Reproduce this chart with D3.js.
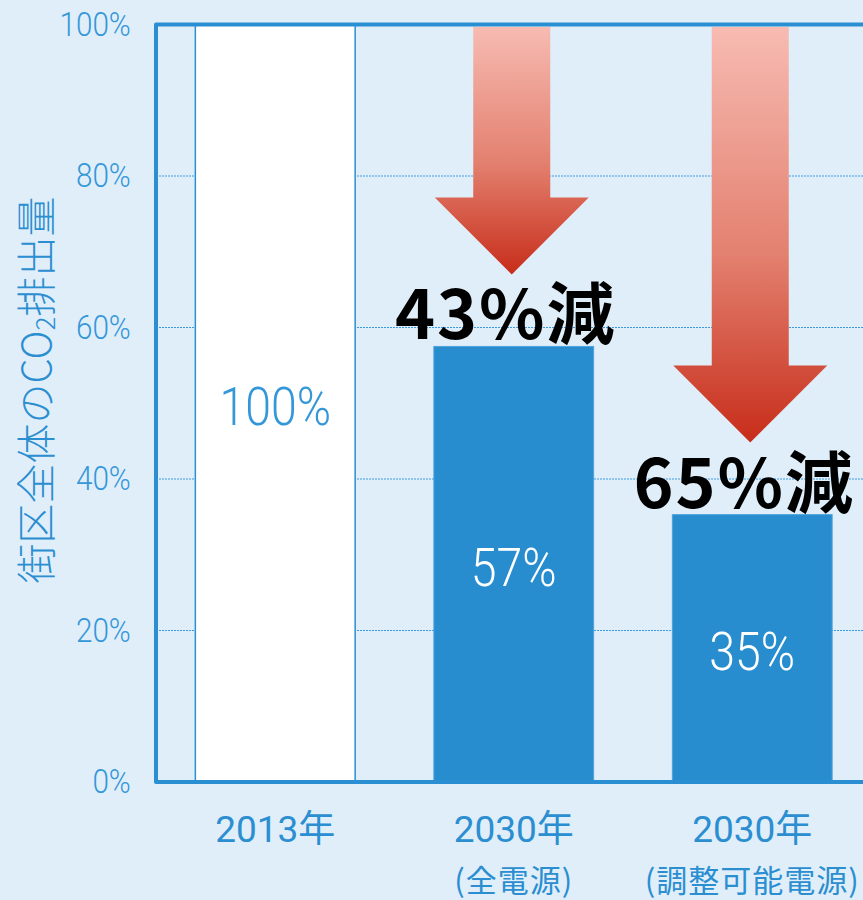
<!DOCTYPE html>
<html>
<head>
<meta charset="utf-8">
<script src="https://cdn.jsdelivr.net/npm/d3@7"></script>
<style>
	html, body { margin: 0; padding: 0; background: #e0eef9; }
	svg { display: block; }
</style>
</head>
<body>
<div id="viz"></div>
<script>
"use strict";

// data
var categories = ["2013年", "2030年 (全電源)", "2030年 (調整可能電源)"];
var yearLabels = ["2013年", "2030年", "2030年"];
var subLabels = ["", "(全電源)", "(調整可能電源)"];
var values = [100, 57.5, 35.3];
var valueLabels = ["100%", "57%", "35%"];
var reductionLabels = ["", "43%減", "65%減"];
var yTicks = [0, 20, 40, 60, 80, 100];

var width = 863,
	height = 900,
	blue = "#288dcf",
	textBlue = "#3497d8",
	numFont = "Roboto, 'Noto Sans CJK JP', sans-serif",
	cjkFont = "'Noto Sans CJK JP', sans-serif";

var svg = d3.select("#viz")
	.append("svg")
	.attr("width", width)
	.attr("height", height)

svg.append("rect")
	.attr("width", width)
	.attr("height", height)
	.attr("fill", "#e0eef9")

var y = d3.scaleLinear()
	.domain([0, 100])
	.range([782, 24.5])

var x = d3.scaleBand()
	.domain(categories)
	.range([156, 871.5])
	.paddingInner(0.33)
	.paddingOuter(0.165)

var barCenter = function(i) {
	return x(categories[i]) + x.bandwidth() / 2
}

// bars that carry a reduction arrow + label
var reductions = values
	.map(function(v, i){ return {value: v, index: i, label: reductionLabels[i]} })
	.filter(function(d){ return d.label })

var defs = svg.append("defs")
var grad = defs.append("linearGradient")
	.attr("id", "arrow-grad")
	.attr("x1", 0).attr("y1", 0)
	.attr("x2", 0).attr("y2", 1)
grad.append("stop").attr("offset", "0%").attr("stop-color", "#f7bbb2")
grad.append("stop").attr("offset", "55%").attr("stop-color", "#e3806f")
grad.append("stop").attr("offset", "100%").attr("stop-color", "#c72d1a")

// grid lines
svg.append("g")
	.selectAll("line")
	.data(yTicks.filter(function(d){ return d > 0 && d < 100 }))
	.enter()
	.append("line")
	.attr("x1", x.range()[0])
	.attr("x2", x.range()[1])
	.attr("y1", function(d){ return y(d) })
	.attr("y2", function(d){ return y(d) })
	.attr("stroke", "#3c9be0")
	.attr("stroke-width", 1)
	.attr("stroke-dasharray", "2,1")

// bars
svg.append("g")
	.selectAll("rect")
	.data(values)
	.enter()
	.append("rect")
	.attr("x", function(d, i){ return x(categories[i]) })
	.attr("width", x.bandwidth())
	.attr("y", function(d){ return y(d) })
	.attr("height", function(d){ return y(0) - y(d) })
	.attr("fill", function(d, i){ return i == 0 ? "#ffffff" : blue })
	.attr("stroke", function(d, i){ return i == 0 ? "#2a8fd2" : "#4fa3dc" })
	.attr("stroke-width", function(d, i){ return i == 0 ? 1.5 : 1 })

// arrows
var arrowPath = function(cx, top, tip) {
	var shaftHalf = 38.5,
		headHalf = 77,
		headH = 77,
		headTop = tip - headH
	return "M" + (cx - shaftHalf) + "," + top +
		"L" + (cx + shaftHalf) + "," + top +
		"L" + (cx + shaftHalf) + "," + headTop +
		"L" + (cx + headHalf) + "," + headTop +
		"L" + cx + "," + tip +
		"L" + (cx - headHalf) + "," + headTop +
		"L" + (cx - shaftHalf) + "," + headTop + "Z"
}

svg.append("g")
	.selectAll("path")
	.data(reductions)
	.enter()
	.append("path")
	.attr("d", function(d){
		return arrowPath(barCenter(d.index) - 2, y(100) + 2.5, y(d.value) - 72)
	})
	.attr("fill", "url(#arrow-grad)")

// frame
svg.append("rect")
	.attr("x", x.range()[0])
	.attr("y", y(100))
	.attr("width", x.range()[1] - x.range()[0])
	.attr("height", y(0) - y(100))
	.attr("fill", "none")
	.attr("stroke", "#2a8fd2")
	.attr("stroke-width", 4)
	.attr("stroke-linejoin", "round")

// value labels inside bars
svg.append("g")
	.selectAll("text")
	.data(values)
	.enter()
	.append("text")
	.attr("transform", function(d, i){
		var cy = (y(d) + y(0)) / 2 + 3
		return "translate(" + barCenter(i) + "," + cy + ") scale(0.86,1)"
	})
	.attr("text-anchor", "middle")
	.attr("dominant-baseline", "central")
	.attr("font-family", numFont)
	.attr("font-weight", 300)
	.attr("font-size", "54px")
	.attr("fill", function(d, i){ return i == 0 ? textBlue : "#ffffff" })
	.text(function(d, i){ return valueLabels[i] })

// reduction labels
svg.append("g")
	.selectAll("text")
	.data(reductions)
	.enter()
	.append("text")
	.attr("x", function(d){ return barCenter(d.index) - 8 })
	.attr("y", function(d){ return y(d.value) - 7 })
	.attr("text-anchor", "middle")
	.attr("font-family", cjkFont)
	.attr("font-weight", 700)
	.attr("font-size", "68px")
	.attr("letter-spacing", "2px")
	.attr("fill", "#000000")
	.text(function(d){ return d.label })

// y axis
var yAxis = svg.append("g")
	.attr("transform", "translate(" + x.range()[0] + ",0)")
	.call(d3.axisLeft(y)
		.tickValues(yTicks)
		.tickSize(0)
		.tickPadding(28)
		.tickFormat(function(d){ return d + "%" }))

yAxis.select(".domain").remove()
yAxis.selectAll("text")
	.attr("font-family", numFont)
	.attr("font-weight", 300)
	.attr("font-size", "33px")
	.attr("fill", textBlue)
	.attr("transform", "scale(0.9,1)")

// x axis
var xAxis = svg.append("g")
	.attr("transform", "translate(0," + y(0) + ")")
	.call(d3.axisBottom(x)
		.tickSize(0)
		.tickPadding(0)
		.tickFormat(function(d, i){ return yearLabels[i] }))

xAxis.select(".domain").remove()
xAxis.selectAll("text")
	.attr("y", 60)
	.attr("dy", 0)
	.attr("font-family", numFont)
	.attr("font-weight", 400)
	.attr("font-size", "37px")
	.attr("fill", "#2b8ed1")

xAxis.selectAll(".tick")
	.append("text")
	.attr("y", 110)
	.attr("text-anchor", "middle")
	.attr("font-family", cjkFont)
	.attr("font-weight", 400)
	.attr("font-size", "31px")
	.attr("letter-spacing", "1px")
	.attr("fill", "#2b8ed1")
	.text(function(d, i){ return subLabels[i] })

// y axis title
var yTitle = svg.append("text")
	.attr("transform", "translate(51,390) rotate(-90)")
	.attr("text-anchor", "middle")
	.attr("font-family", cjkFont)
	.attr("font-weight", 300)
	.attr("font-size", "40px")
	.attr("fill", "#2b8ed1")
yTitle.append("tspan").text("街区全体のCO")
yTitle.append("tspan").attr("font-size", "26px").attr("dy", 4).text("2")
yTitle.append("tspan").attr("dy", -4).text("排出量")
</script>
</body>
</html>
